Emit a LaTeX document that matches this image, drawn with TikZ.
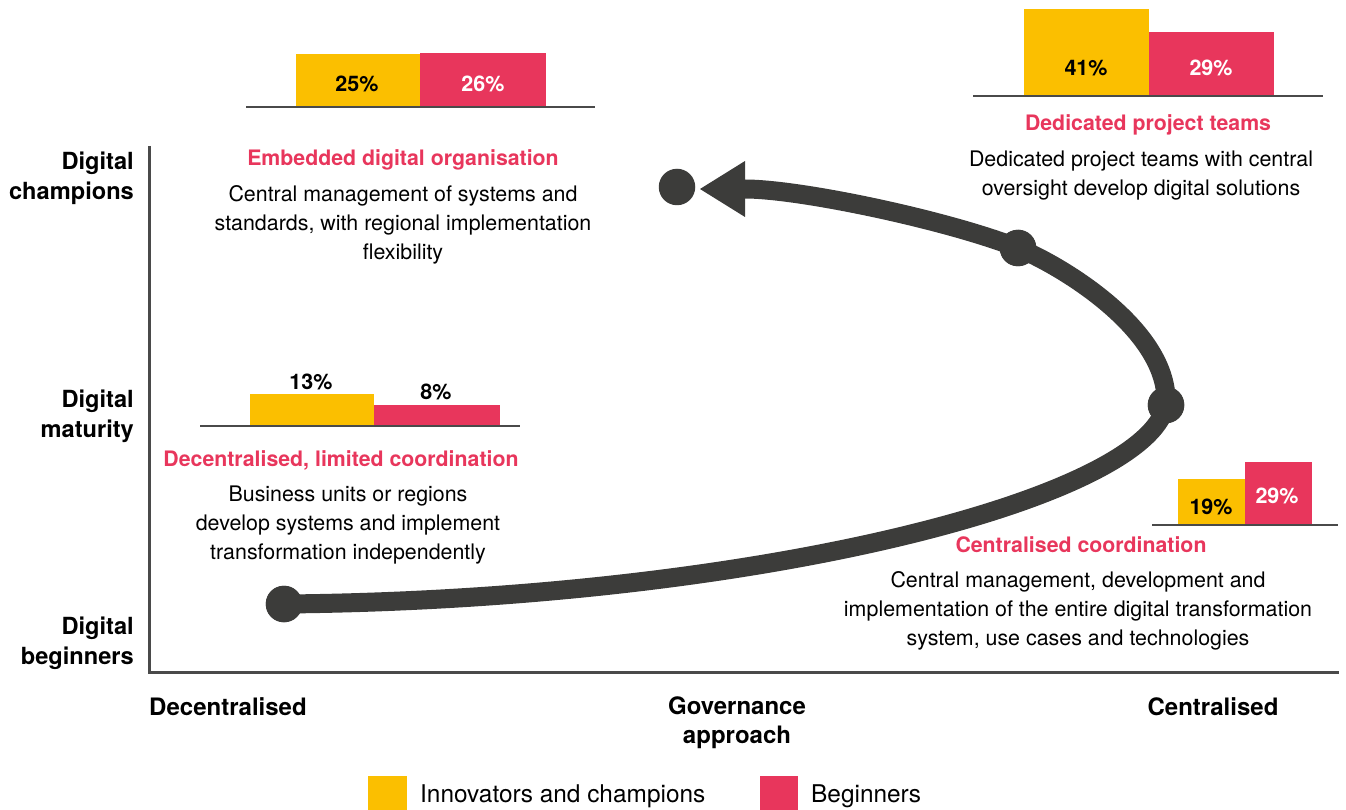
\documentclass[tikz,border=0pt]{standalone}
\usepackage{fontspec}
\setmainfont{TeX Gyre Heros}
\usetikzlibrary{arrows.meta}
\definecolor{gold}{HTML}{FBBF00}
\definecolor{rose}{HTML}{E8365C}
\definecolor{ink}{HTML}{3C3C3A}
\definecolor{axisgray}{HTML}{4A4A4A}
\tikzset{
  body/.style={font=\fontsize{21.4}{29}\selectfont, align=center, inner sep=0pt, text=black},
  axislabel/.style={font=\fontsize{23.6}{30}\selectfont\bfseries, align=right, inner sep=0pt, text=black},
  bottomlabel/.style={font=\fontsize{24}{29}\selectfont\bfseries, align=center, inner sep=0pt, text=black},
  head/.style={font=\fontsize{21.3}{29}\selectfont\bfseries, inner sep=0pt, text=rose},
  pct/.style={font=\fontsize{21.5}{24}\selectfont\bfseries, inner sep=0pt},
  goldbar/.style={fill=gold, draw=none},
  rosebar/.style={fill=rose, draw=none},
  baseline/.style={draw=axisgray, line width=2.5pt},
  dot/.style={circle, fill=ink, minimum size=36.5pt, inner sep=0pt},
  path line/.style={draw=ink, line width=19pt},
  legendtext/.style={font=\fontsize{24.4}{28}\selectfont, inner sep=0pt, anchor=west},
}
\begin{document}
\begin{tikzpicture}[x=1pt,y=-1pt]
\useasboundingbox (0,0) rectangle (1346,810);

% axes
\coordinate (axtop) at (149,146);
\coordinate (origin) at (149,672);
\coordinate (axright) at (1339,672);
\draw[draw=axisgray, line width=3pt] (axtop) -- (origin) -- (axright);

% axis labels
\node[axislabel, anchor=east] (champ) at (134,178) {Digital\\champions};
\node[axislabel, anchor=east] (matur) at (134,416) {Digital\\maturity};
\node[axislabel, anchor=east] (begin) at (134,643.5) {Digital\\beginners};
\node[bottomlabel] (decen) at (228,707) {Decentralised};
\node[bottomlabel] (gov) at (737,722.5) {Governance\\approach};
\node[bottomlabel] (cen) at (1213,707) {Centralised};

% bar group: embedded digital organisation
\fill[goldbar] (296,54) rectangle (420,107);
\fill[rosebar] (420,53) rectangle (546,107);
\draw[baseline] (246,107) -- (595,107);
\node[pct, text=black] (p25) at (357,84) {25\%};
\node[pct, text=white] (p26) at (483,84) {26\%};

% bar group: dedicated project teams
\fill[goldbar] (1024,9) rectangle (1149,96);
\fill[rosebar] (1149,32) rectangle (1274,96);
\draw[baseline] (973,96) -- (1323,96);
\node[pct, text=black] (p41) at (1086,68) {41\%};
\node[pct, text=white] (p29a) at (1211,68) {29\%};

% bar group: decentralised
\fill[goldbar] (250,394) rectangle (374,426);
\fill[rosebar] (374,405) rectangle (500,426);
\draw[baseline] (200,426) -- (520,426);
\node[pct, text=black] (p13) at (311,382) {13\%};
\node[pct, text=black] (p8) at (436,392) {8\%};

% bar group: centralised coordination
\fill[goldbar] (1178,479) rectangle (1245,525);
\fill[rosebar] (1245,462) rectangle (1312,525);
\draw[baseline] (1152,525) -- (1338,525);
\node[pct, text=black] (p19) at (1211,507) {19\%};
\node[pct, text=white] (p29b) at (1277,496) {29\%};

% descriptions
\node[head] (h1) at (403,160) {Embedded digital organisation};
\node[body] (t1) at (403,225) {Central management of systems and\\standards, with regional implementation\\flexibility};
\node[head] (h2) at (1148,125) {Dedicated project teams};
\node[body] (t2) at (1141,176) {Dedicated project teams with central\\oversight develop digital solutions};
\node[head] (h3) at (341,460) {Decentralised, limited coordination};
\node[body] (t3) at (348,525) {Business units or regions\\develop systems and implement\\transformation independently};
\node[head] (h4) at (1081,545) {Centralised coordination};
\node[body] (t4) at (1078,611) {Central management, development and\\implementation of the entire digital transformation\\system, use cases and technologies};

% journey path
\node[dot] (s0) at (284,604) {};
\node[dot] (s1) at (1166,405) {};
\node[dot] (s2) at (1018,248) {};
\node[dot] (s3) at (677,187) {};
\coordinate (tip) at (700,189);
\draw[path line] (s0.center) .. controls (750,600) and (1145,500) .. (s1.center)
  .. controls (1170,330) and (1060,265) .. (s2.center)
  .. controls (947,220) and (800,189) .. (745,189);
\fill[ink] (tip) -- (745,161) -- (745,217) -- cycle;
\node[dot] at (s0) {};
\node[dot] at (s1) {};
\node[dot] at (s2) {};

% legend
\fill[gold] (368,776) rectangle (407,810);
\node[legendtext] (l1) at (420,796) {Innovators and champions};
\fill[rose] (760,776) rectangle (798,810);
\node[legendtext] (l2) at (811,796) {Beginners};
\end{tikzpicture}
\end{document}
